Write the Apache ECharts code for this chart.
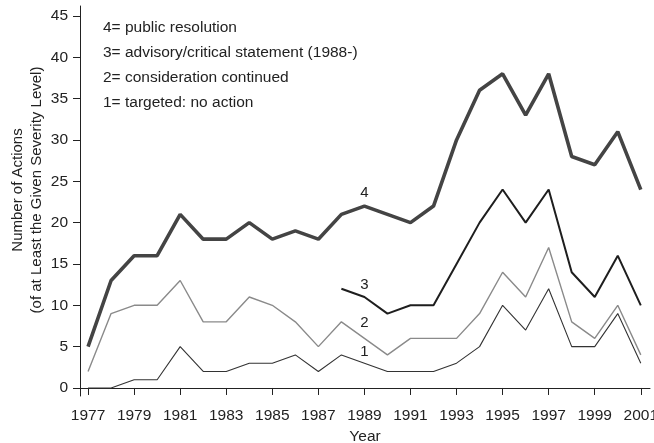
<!DOCTYPE html>
<html>
<head>
<meta charset="utf-8">
<script src="https://cdn.jsdelivr.net/npm/echarts@6/dist/echarts.min.js"></script>
<style>
  html, body { margin: 0; padding: 0; background: #fff; }
  #chart { width: 654px; height: 443px; }
</style>
</head>
<body>
<div id="chart"></div>
<script>
// Years on the horizontal axis
const years = [1977, 1978, 1979, 1980, 1981, 1982, 1983, 1984, 1985, 1986, 1987, 1988, 1989,
               1990, 1991, 1992, 1993, 1994, 1995, 1996, 1997, 1998, 1999, 2000, 2001];

// Number of actions at least at each severity level
const level4 = [5, 13, 16, 16, 21, 18, 18, 20, 18, 19, 18, 21, 22, 21, 20, 22, 30, 36, 38, 33, 38, 28, 27, 31, 24];
const level3Years = [1988, 1989, 1990, 1991, 1992, 1993, 1994, 1995, 1996, 1997, 1998, 1999, 2000, 2001];
const level3 = [12, 11, 9, 10, 10, 15, 20, 24, 20, 24, 14, 11, 16, 10];
const level2 = [2, 9, 10, 10, 13, 8, 8, 11, 10, 8, 5, 8, 6, 4, 6, 6, 6, 9, 14, 11, 17, 8, 6, 10, 4];
const level1 = [0, 0, 1, 1, 5, 2, 2, 3, 3, 4, 2, 4, 3, 2, 2, 2, 3, 5, 10, 7, 12, 5, 5, 9, 3];

// Tick labels
const xTicks = [1977, 1979, 1981, 1983, 1985, 1987, 1989, 1991, 1993, 1995, 1997, 1999, 2001];
const yTicks = [0, 5, 10, 15, 20, 25, 30, 35, 40, 45];

// Key text
const keyLines = [
  '4= public resolution',
  '3= advisory/critical statement (1988-)',
  '2= consideration continued',
  '1= targeted: no action'
];
const yTitle = 'Number of Actions\n(of at Least the Given Severity Level)';

const labelYear = 1989;
const FONT = 'Liberation Sans, Arial, Helvetica, sans-serif';
const FS = 15;
const FS_TICK = 15.5;
const CLEAR = 'rgba(0,0,0,0)';

// Build [year, value] points; the 1989 point carries the series tag
function pairs(xs, ys, tag, dist) {
  return ys.map((v, i) => {
    const item = { value: [xs[i], v] };
    if (xs[i] === labelYear) {
      item.label = {
        show: true, formatter: tag, position: 'top', distance: dist,
        color: '#222', fontSize: FS, fontFamily: FONT
      };
    }
    return item;
  });
}

function lineSeries(name, xs, ys, dist, color, width) {
  return {
    name, type: 'line', symbol: 'circle', symbolSize: 0.1, showSymbol: true,
    data: pairs(xs, ys, name, dist),
    lineStyle: { color, width },
    itemStyle: { color: CLEAR, borderWidth: 0 },
    label: { show: false },
    z: 2
  };
}

const chart = echarts.init(document.getElementById('chart'), null, { renderer: 'canvas' });

chart.setOption({
  animation: false,
  backgroundColor: '#ffffff',
  grid: { left: 80, right: 4, top: 6, bottom: 47, containLabel: false, outerBoundsMode: 'none' },
  xAxis: {
    type: 'value',
    min: 1976.65,
    max: 2001.4,
    name: 'Year',
    nameLocation: 'middle',
    nameGap: 32,
    nameTextStyle: { color: '#222', fontSize: FS_TICK, fontFamily: FONT },
    axisLine: { show: true, lineStyle: { color: '#222', width: 1 } },
    axisTick: { show: true, customValues: xTicks, length: 7, inside: false, lineStyle: { color: '#222' } },
    axisLabel: { customValues: xTicks, color: '#222', fontSize: FS_TICK, fontFamily: FONT, margin: 12,
                 hideOverlap: false, formatter: v => String(v) },
    splitLine: { show: false }
  },
  yAxis: {
    type: 'value',
    min: -0.97,
    max: 46.2,
    axisLine: { show: true, lineStyle: { color: '#222', width: 1 } },
    axisTick: { show: true, customValues: yTicks, length: 7, lineStyle: { color: '#222' } },
    axisLabel: { customValues: yTicks, color: '#222', fontSize: FS_TICK, fontFamily: FONT, margin: 12 },
    splitLine: { show: false }
  },
  graphic: [
    {
      type: 'text',
      x: 27, y: 190,
      rotation: Math.PI / 2,
      style: { text: yTitle, fill: '#222', fontSize: FS, fontFamily: FONT, lineHeight: 19,
               align: 'center', verticalAlign: 'middle' }
    }
  ].concat(keyLines.map((t, i) => ({
    type: 'text',
    left: 103,
    top: 20 + i * 24.8,
    style: { text: t, fill: '#222', fontSize: FS_TICK, fontFamily: FONT }
  }))),
  series: [
    lineSeries('1', years, level1, 4, '#333', 1.1),
    lineSeries('2', years, level2, 8, '#8a8a8a', 1.4),
    lineSeries('3', level3Years, level3, 5, '#1e1e1e', 2),
    lineSeries('4', years, level4, 6, '#444', 3.6)
  ]
});
</script>
</body>
</html>
